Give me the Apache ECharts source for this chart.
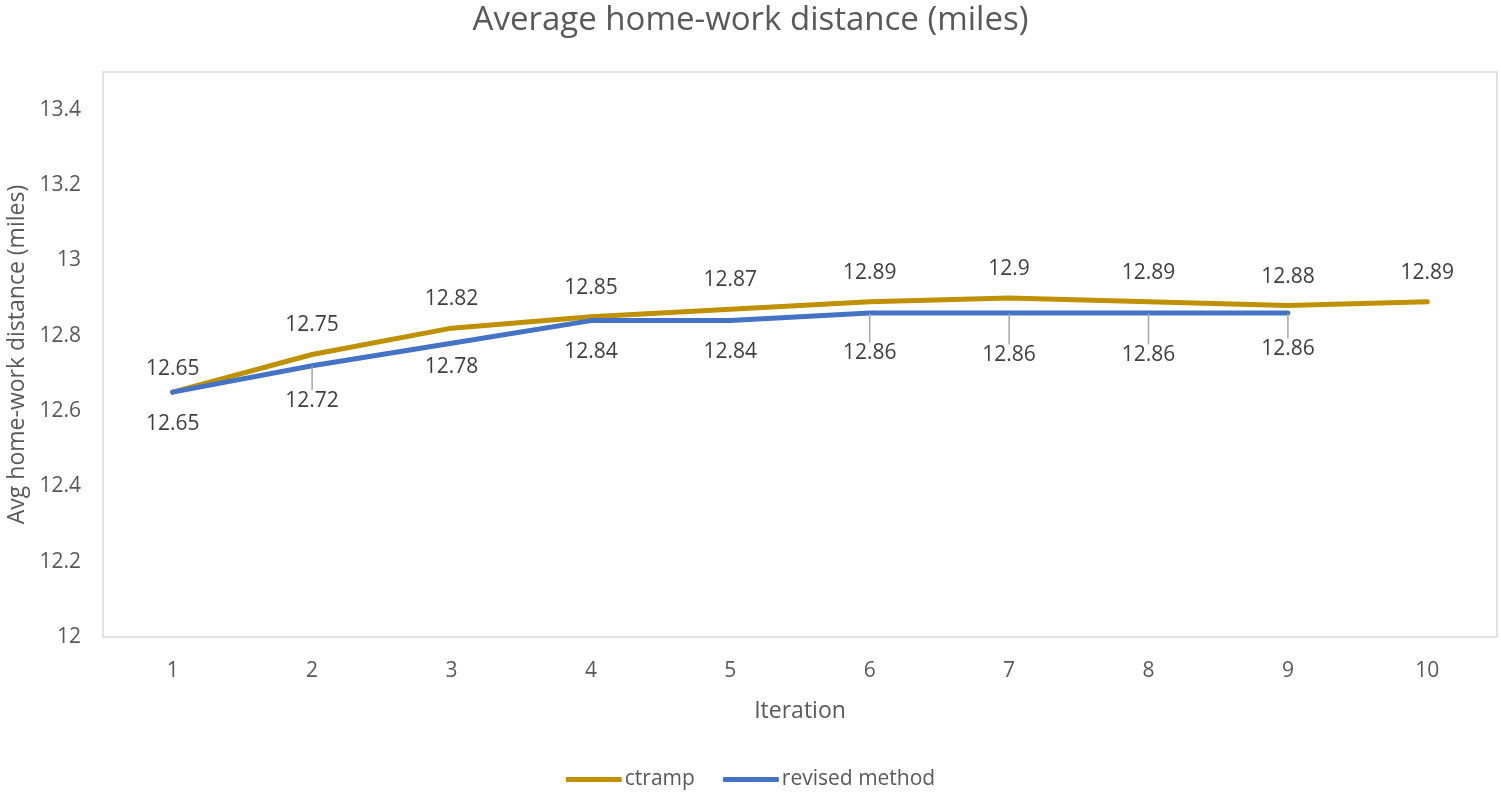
<!DOCTYPE html>
<html>
<head>
<meta charset="utf-8">
<script src="https://cdn.jsdelivr.net/npm/echarts@6/dist/echarts.min.js"></script>
<style>
  html, body { margin: 0; padding: 0; background: #fff; }
  #chart { width: 1501px; height: 795px; }
</style>
</head>
<body>
<div id="chart"></div>
<script>
// Iteration numbers along the x axis
const iterations = ['1', '2', '3', '4', '5', '6', '7', '8', '9', '10'];
// Average home-work distance per iteration (miles)
const ctrampValues = [12.65, 12.75, 12.82, 12.85, 12.87, 12.89, 12.9, 12.89, 12.88, 12.89];
const revisedValues = [12.65, 12.72, 12.78, 12.84, 12.84, 12.86, 12.86, 12.86, 12.86];
const seriesNames = ['ctramp', 'revised method'];
const seriesColors = ['#BF9000', '#4472C4'];

const FONT = '"Open Sans", sans-serif';
const TEXT = '#595959';

// extra vertical shift of the value labels (pixels) and which ones get a leader line
const revisedLabelShift = [5, 8, -3, 4, 4, 13, 15, 15, 9];
const revisedLeader = [false, true, false, false, false, true, true, true, true];
const ctrampLabelShift = [6, 0, 0, 0, 0, 0, 0, 0, 0, 0];

const revisedData = revisedValues.map((v, i) => ({
  value: v,
  labelLine: { show: revisedLeader[i] }
}));

const chart = echarts.init(document.getElementById('chart'));
chart.setOption({
  animation: false,
  title: {
    text: 'Average home-work distance (miles)',
    left: 'center',
    top: -1,
    textStyle: { fontFamily: FONT, fontSize: 33, fontWeight: 'normal', color: TEXT }
  },
  grid: {
    left: 103, right: 4, top: 72, bottom: 158,
    outerBoundsMode: 'none',
    show: true, borderColor: '#d9d9d9', borderWidth: 1.5, backgroundColor: '#fff'
  },
  legend: {
    bottom: 0,
    left: 'center',
    itemGap: 28,
    itemWidth: 56,
    itemHeight: 5,
    icon: 'roundRect',
    textStyle: { fontFamily: FONT, fontSize: 21, color: TEXT, padding: [0, 0, 0, -2] },
    data: seriesNames.map((n, i) => ({ name: n, itemStyle: { color: seriesColors[i] } }))
  },
  xAxis: {
    type: 'category',
    data: iterations,
    boundaryGap: true,
    name: 'Iteration',
    nameLocation: 'middle',
    nameGap: 63,
    nameTextStyle: { fontFamily: FONT, fontSize: 23, color: TEXT },
    axisLine: { show: false },
    axisTick: { show: false },
    axisLabel: { fontFamily: FONT, fontSize: 21, color: TEXT, margin: 24 },
    splitLine: { show: false }
  },
  yAxis: {
    type: 'value',
    min: 12,
    max: 13.5,
    interval: 0.2,
    name: 'Avg home-work distance (miles)',
    nameLocation: 'middle',
    nameGap: 74,
    nameTextStyle: { fontFamily: FONT, fontSize: 23, color: TEXT },
    axisLine: { show: false },
    axisTick: { show: false },
    axisLabel: {
      fontFamily: FONT, fontSize: 21, color: TEXT, margin: 22, showMaxLabel: false,
      formatter: v => String(Math.round(v * 10) / 10)
    },
    splitLine: { show: false }
  },
  series: [
    {
      name: seriesNames[0],
      type: 'line',
      data: ctrampValues,
      showSymbol: true,
      symbol: 'circle',
      symbolSize: 1,
      lineStyle: { color: seriesColors[0], width: 5, cap: 'round' },
      itemStyle: { color: 'transparent', borderWidth: 0 },
      label: {
        show: true, position: 'top', distance: 18,
        fontFamily: FONT, fontSize: 21, color: '#404040',
        formatter: p => String(p.value)
      },
      labelLayout: p => ({ dy: ctrampLabelShift[p.dataIndex] || 0 }),
      z: 2
    },
    {
      name: seriesNames[1],
      type: 'line',
      data: revisedData,
      showSymbol: true,
      symbol: 'circle',
      symbolSize: 1,
      lineStyle: { color: seriesColors[1], width: 5, cap: 'round' },
      itemStyle: { color: 'transparent', borderWidth: 0 },
      label: {
        show: true, position: 'bottom', distance: 16,
        fontFamily: FONT, fontSize: 21, color: '#404040',
        formatter: p => String(p.value)
      },
      labelLine: { show: true, lineStyle: { color: '#a6a6a6', width: 1.5 } },
      labelLayout: p => ({ dy: revisedLabelShift[p.dataIndex] || 0 }),
      z: 3
    }
  ]
});
</script>
</body>
</html>
